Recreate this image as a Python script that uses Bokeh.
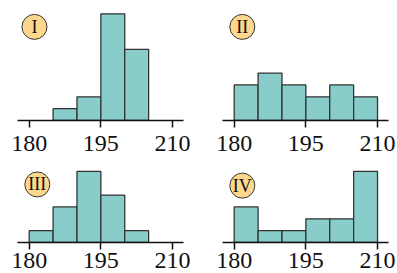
from bokeh.plotting import figure
from bokeh.layouts import gridplot
from bokeh.models import Range1d, FixedTicker
from bokeh.core.properties import value
from bokeh.embed import file_html
from bokeh.resources import INLINE

bin_edges = [180, 185, 190, 195, 200, 205, 210]
counts_I = [0, 1, 2, 9, 6, 0]
counts_II = [3, 4, 3, 2, 3, 2]
counts_III = [1, 3, 6, 4, 1, 0]
counts_IV = [3, 1, 1, 2, 2, 6]
panel_names = ["I", "II", "III", "IV"]
tick_values = [180, 195, 210]

BAR_FILL = "#88CDC9"
EDGE = "#333333"
BADGE_FILL = "#FDD88C"
SERIF = "'Liberation Serif', 'Times New Roman', serif"


def panel(counts, name, left_border, right_border, height, frame_h, top_border, y_max,
          badge_y, badge_x, standoff):
    width = left_border + 166 + right_border
    p = figure(width=width, height=height, output_backend="svg", toolbar_location=None,
               x_range=Range1d(177.55, 212.3), y_range=Range1d(0, y_max),
               y_axis_location=None, min_border_left=left_border, min_border_right=right_border,
               min_border_top=top_border, min_border_bottom=height - frame_h - top_border)
    p.outline_line_color = None
    p.xgrid.visible = False
    p.ygrid.visible = False
    p.background_fill_color = None
    p.border_fill_color = None
    left = [bin_edges[i] for i in range(len(counts)) if counts[i] > 0]
    right = [bin_edges[i + 1] for i in range(len(counts)) if counts[i] > 0]
    top = [c for c in counts if c > 0]
    p.quad(left=left, right=right, bottom=0, top=top, fill_color=BAR_FILL,
           line_color=EDGE, line_width=1.3)
    ax = p.xaxis[0]
    ax.ticker = FixedTicker(ticks=tick_values, minor_ticks=[])
    ax.major_tick_in = 0
    ax.major_tick_out = 7
    ax.axis_line_width = 1.5
    ax.major_tick_line_width = 1.5
    ax.axis_line_color = "#111111"
    ax.major_tick_line_color = "#111111"
    ax.major_label_text_font = SERIF
    ax.major_label_text_font_size = "24px"
    ax.major_label_text_color = "#111111"
    ax.major_label_standoff = standoff
    p.scatter(x=[badge_x], y=[badge_y], size=25, marker="circle", fill_color=BADGE_FILL,
              line_color=EDGE, line_width=1)
    p.text(x=[badge_x], y=[badge_y], text=[name], text_font=value(SERIF),
           text_font_size="18px", text_align="center", text_baseline="middle", text_color="#111111")
    return p


unit = 11.85
top_frame = 112
bot_frame = 86
p1 = panel(counts_I, panel_names[0], 17, 20, 156, top_frame, 8, top_frame / unit, 7.9, 181.1, 8)
p2 = panel(counts_II, panel_names[1], 19, 9, 156, top_frame, 8, top_frame / unit, 7.9, 181.7, 8)
p3 = panel(counts_III, panel_names[2], 17, 20, 117, bot_frame, 0, bot_frame / unit, 4.9, 181.7, 3)
p4 = panel(counts_IV, panel_names[3], 19, 9, 117, bot_frame, 0, bot_frame / unit, 4.8, 181.7, 3)

grid = gridplot([[p1, p2], [p3, p4]], toolbar_location=None)
open("out.html", "w").write(file_html(grid, INLINE))
